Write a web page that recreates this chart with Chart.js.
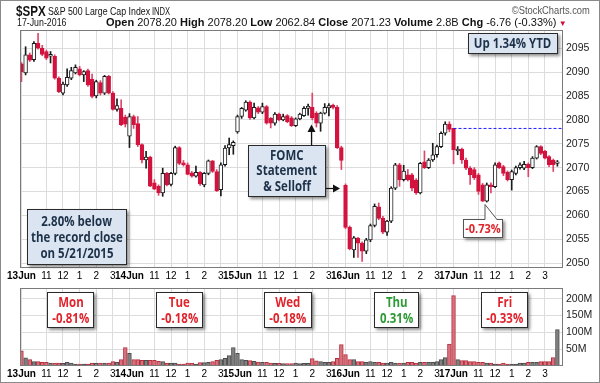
<!DOCTYPE html>
<html><head><meta charset="utf-8">
<script src="https://cdn.jsdelivr.net/npm/chart.js@4.4.1/dist/chart.umd.min.js"></script>
<style>
html,body{margin:0;padding:0;background:#fff;}
#wrap{position:relative;width:600px;height:383px;overflow:hidden;font-family:'Liberation Sans',Arial,sans-serif;color:#111;}
canvas{position:absolute;left:0;}
#price{top:0;}
#vol{top:279px;}
.t{position:absolute;white-space:nowrap;line-height:1;transform-origin:0 0;}
.box{position:absolute;box-sizing:border-box;border:1px solid #2a2a2a;box-shadow:2px 2px 3px rgba(0,0,0,.45);font-family:'Open Sans','Liberation Sans',sans-serif;font-weight:700;text-align:center;display:flex;flex-direction:column;justify-content:center;align-items:center;}
.box span{display:block;white-space:nowrap;transform:scaleX(.85);}
.blue{background:#dbe5f1;color:#1d3149;font-size:13.5px;line-height:15.5px;}
.white{background:#fff;font-size:13.5px;line-height:16.5px;}
.red{color:#e0242c;}
.green{color:#2e9a35;}
#frame{position:absolute;left:0;top:0;width:600px;height:383px;box-sizing:border-box;border:1px solid #8a8a8a;pointer-events:none;}
svg{position:absolute;left:0;top:0;}
</style></head>
<body>
<div id="wrap">
<canvas id="price" width="600" height="283"></canvas>
<canvas id="vol" width="600" height="104"></canvas>

<div class="t" style="left:16px;top:4px;font-size:14.5px;font-weight:700;transform:scaleX(.8)">$SPX</div>
<div class="t" style="left:48px;top:6px;font-size:11px;transform:scaleX(.8)">S&amp;P 500 Large Cap Index</div>
<div class="t" style="left:152px;top:7px;font-size:10px;transform:scaleX(.76)">INDX</div>
<div class="t" style="right:10px;top:5px;font-size:11px;color:#555;transform-origin:100% 0;transform:scaleX(.85)">&copy;StockCharts.com</div>
<div class="t" style="left:17px;top:17px;font-size:11px;transform:scaleX(.8)">17-Jun-2016</div>
<div class="t" style="left:106px;top:17px;font-size:11px;"><b>Open</b> 2078.20 <b>High</b> 2078.20 <b>Low</b> 2062.84 <b>Close</b> 2071.23 <b>Volume</b> 2.8B <b>Chg</b> -6.76 (-0.33%)<span style="color:#d0103a;font-size:8px;"> &#9660;</span></div>

<div class="box blue" style="left:468px;top:33px;width:90px;height:21px;"><span>Up 1.34% YTD</span></div>
<div class="box blue" style="left:248px;top:145px;width:78px;height:52px;"><span>FOMC</span><span>Statement</span><span>&amp; Selloff</span></div>
<div class="box blue" style="left:27px;top:209px;width:100px;height:56px;line-height:16px;"><span>2.80% below</span><span>the record close</span><span>on 5/21/2015</span></div>
<div class="box white red" style="left:463px;top:219px;width:40px;height:19px;font-size:13px;border-color:#555;"><span>-0.73%</span></div>

<div class="box white red" style="left:47px;top:292px;width:47px;height:36px;"><span>Mon</span><span>-0.81%</span></div>
<div class="box white red" style="left:156px;top:292px;width:47px;height:36px;"><span>Tue</span><span>-0.18%</span></div>
<div class="box white red" style="left:264px;top:292px;width:48px;height:36px;"><span>Wed</span><span>-0.18%</span></div>
<div class="box white green" style="left:374px;top:292px;width:45px;height:36px;"><span>Thu</span><span>0.31%</span></div>
<div class="box white red" style="left:481px;top:292px;width:47px;height:36px;"><span>Fri</span><span>-0.33%</span></div>

<svg width="600" height="383">
  <line x1="311.5" y1="145" x2="311.5" y2="131" stroke="#111" stroke-width="1.2"/>
  <polygon points="307.5,132 315.5,132 311.5,124.5" fill="#111"/>
  <line x1="326" y1="188.5" x2="334" y2="188.5" stroke="#111" stroke-width="1.2"/>
  <polygon points="333,184.5 333,192.5 340,188.5" fill="#111"/>
  <polygon points="485,204.5 485,220 497,220" fill="#fff"/>
  <polyline points="485,219.5 485,204.5 497,219.5" fill="none" stroke="#555" stroke-width="1"/>
</svg>
<div id="frame"></div>
</div>

<script>
// ---------- data (15-minute bars, 13-17 Jun 2016) ----------
const days = ['13Jun','14Jun','15Jun','16Jun','17Jun'];
const hourLabels = ['11','12','1','2','3'];
const hourBars = [6,10,14,18,22];
const barsPerDay = 26;
const priceTicks = [2050,2055,2060,2065,2070,2075,2080,2085,2090,2095];
const volTicks = [50,100,150,200];
const fridayHigh = 2078.2;
const fridayFirstBar = 104;

const opens = [
2091.7,2089.8,2093.6,2092.6,2096.0,2095.0,2094.3,2093.3,2093.3,2088.7,2085.6,2087.3,2088.7,2089.8,2090.7,2089.4,2090.3,2088.5,2085.0,2087.8,2085.6,2089.1,2085.6,2082.2,2082.4,2080.6,
2076.6,2080.7,2079.2,2074.8,2071.6,2072.2,2066.8,2066.1,2064.7,2068.8,2066.5,2068.8,2074.2,2071.0,2070.6,2068.9,2068.2,2069.0,2066.4,2068.8,2071.4,2069.2,2065.4,2070.6,2074.1,2074.6,
2077.5,2080.7,2082.0,2083.7,2080.4,2082.5,2081.6,2082.8,2080.3,2079.3,2081.2,2080.0,2080.9,2080.4,2078.8,2080.2,2080.9,2082.4,2082.6,2081.4,2079.3,2081.4,2082.5,2083.1,2082.6,2074.2,
2066.3,2057.5,2052.8,2055.2,2054.2,2052.5,2054.9,2057.9,2061.8,2059.4,2056.5,2058.8,2065.7,2070.6,2067.5,2068.5,2068.5,2067.4,2064.7,2071.2,2070.0,2071.6,2072.7,2074.4,2077.2,2079.1,
2078.2,2073.5,2073.9,2071.6,2069.9,2069.6,2068.5,2066.4,2063.0,2066.4,2066.0,2071.0,2070.2,2069.0,2067.5,2068.8,2070.0,2069.9,2070.7,2070.0,2072.0,2074.4,2073.4,2072.3,2071.6,2070.9];
const highs = [
2092.0,2095.3,2094.0,2096.4,2098.1,2095.6,2094.6,2094.3,2093.6,2089.0,2087.9,2090.7,2091.0,2091.5,2091.2,2090.3,2090.6,2089.6,2088.3,2088.2,2089.3,2089.3,2085.9,2084.4,2084.2,2081.0,
2081.3,2081.0,2080.7,2075.0,2073.4,2072.4,2067.5,2066.4,2069.9,2069.0,2069.0,2074.5,2074.4,2071.5,2071.0,2069.2,2070.3,2069.2,2069.0,2071.6,2071.5,2069.6,2071.0,2074.6,2076.2,2075.6,
2081.0,2082.6,2084.0,2084.0,2083.5,2082.8,2083.5,2083.0,2080.5,2081.5,2081.4,2081.2,2081.1,2080.7,2080.4,2081.4,2082.8,2083.3,2085.6,2081.7,2081.6,2083.4,2083.4,2083.3,2083.0,2074.5,
2066.6,2057.8,2055.6,2055.4,2054.5,2055.2,2058.2,2062.4,2062.6,2059.8,2059.0,2066.0,2070.9,2070.9,2070.5,2069.6,2068.8,2067.7,2071.1,2073.5,2071.9,2075.1,2074.7,2077.5,2079.6,2079.6,
2078.2,2074.4,2074.1,2072.0,2070.2,2070.0,2068.8,2066.7,2066.8,2066.8,2071.0,2071.2,2070.5,2069.3,2069.5,2070.3,2071.0,2071.3,2071.0,2072.3,2074.6,2074.6,2073.6,2072.5,2071.8,2071.5];
const lows = [
2088.0,2089.4,2092.2,2092.2,2094.8,2093.4,2092.6,2091.9,2088.5,2085.7,2085.2,2087.0,2088.4,2089.6,2089.2,2088.0,2087.0,2084.6,2084.6,2085.2,2085.3,2085.4,2082.0,2081.8,2078.8,2078.5,
2074.2,2078.2,2074.4,2071.0,2069.9,2066.0,2065.4,2064.2,2064.0,2066.2,2066.2,2068.5,2070.6,2070.3,2068.5,2068.0,2068.0,2066.3,2066.0,2068.5,2069.0,2065.0,2064.1,2070.3,2072.7,2072.8,
2077.2,2080.3,2081.8,2080.1,2080.2,2081.3,2081.3,2079.1,2078.3,2078.9,2079.8,2079.8,2079.4,2078.6,2078.6,2080.0,2080.7,2081.0,2080.0,2078.5,2077.6,2081.2,2080.8,2082.3,2074.0,2069.6,
2057.2,2052.8,2051.2,2051.2,2050.4,2052.0,2054.5,2057.6,2059.1,2056.2,2055.8,2058.5,2065.4,2066.1,2067.2,2067.2,2065.2,2064.4,2064.5,2069.8,2069.8,2071.3,2072.2,2074.2,2076.8,2077.5,
2070.8,2072.7,2070.9,2069.6,2066.5,2067.5,2064.4,2062.9,2062.8,2064.7,2065.8,2069.8,2068.3,2067.2,2065.3,2068.5,2069.7,2069.6,2068.1,2069.8,2071.8,2072.7,2071.8,2070.2,2069.2,2070.3];
const closes = [
2090.1,2093.6,2092.5,2096.0,2095.0,2093.7,2092.9,2093.7,2088.7,2085.9,2087.5,2088.9,2090.3,2091.0,2089.4,2090.1,2087.3,2084.9,2088.0,2085.6,2089.1,2085.6,2082.2,2083.0,2079.0,2079.1,
2080.7,2079.0,2074.8,2071.6,2072.2,2066.1,2065.5,2064.7,2068.8,2066.4,2068.8,2074.2,2070.9,2070.6,2068.6,2068.2,2069.0,2066.6,2068.8,2071.4,2069.2,2065.2,2070.6,2074.1,2074.8,2075.3,
2080.7,2082.4,2083.7,2080.4,2082.6,2081.6,2082.8,2079.3,2079.3,2081.2,2080.0,2080.7,2079.6,2078.8,2080.2,2081.2,2082.4,2082.9,2080.4,2079.3,2081.4,2082.6,2083.0,2082.6,2074.2,2071.5,
2057.5,2053.0,2055.3,2054.2,2052.5,2054.9,2057.9,2061.9,2059.4,2056.5,2058.8,2065.7,2070.6,2067.5,2069.3,2067.5,2065.7,2064.7,2070.9,2070.0,2071.6,2072.7,2074.4,2077.2,2079.1,2078.0,
2073.7,2073.9,2071.6,2069.9,2068.5,2067.9,2065.0,2063.0,2066.4,2066.0,2070.6,2070.0,2068.8,2067.5,2069.2,2070.0,2070.6,2070.7,2070.0,2072.0,2074.4,2073.0,2072.0,2070.6,2070.6,2071.2];
const volumes = [ // millions of shares
45,24,19,13,13,11,11,9,9,9,8,11,9,6,6,6,6,9,9,9,9,9,13,11,19,55,
38,19,19,17,17,17,17,14,13,9,9,9,6,6,9,9,6,10,10,11,13,17,19,23,31,55,
38,19,17,16,14,12,11,11,9,8,8,7,7,7,9,7,8,8,22,15,13,11,11,13,23,64,
34,19,19,13,13,11,13,11,11,9,9,11,9,9,9,11,11,9,11,11,11,11,13,19,25,65,
209,19,16,16,13,13,11,11,9,9,6,6,9,6,6,6,9,9,11,11,11,13,13,13,25,108];

// ---------- chart ----------
const F = "'Liberation Sans', Arial, sans-serif";
Chart.defaults.font.family = F;
const RED = '#d3123e';
const idx = closes.map((_, i) => i);
const isUp = i => closes[i] >= opens[i];
const xMin = -0.35, xMax = closes.length + 0.35;

const xTicks = [];
days.forEach((d, k) => {
  xTicks.push({ v: k * barsPerDay, label: d });
  hourBars.forEach((h, j) => xTicks.push({ v: k * barsPerDay + h, label: hourLabels[j] }));
});

const framePlugin = {
  id: 'frame',
  afterDraw(chart) {
    const { ctx, chartArea: a } = chart;
    ctx.save();
    ctx.strokeStyle = '#7a7a7a';
    ctx.lineWidth = 1;
    ctx.strokeRect(Math.round(a.left) + 0.5, Math.round(a.top) + 0.5, Math.round(a.right - a.left) - 1, Math.round(a.bottom - a.top) - 1);
    ctx.restore();
  }
};

function xScale(h) {
  return {
    type: 'linear', min: xMin, max: xMax, offset: false,
    afterBuildTicks: s => { s.ticks = xTicks.map(t => ({ value: t.v })); },
    afterFit: s => { s.height = h; },
    ticks: {
      autoSkip: false, maxRotation: 0, minRotation: 0, padding: 2, color: '#000',
      callback: v => { const t = xTicks.find(t => t.v === v); return t ? t.label : ''; },
      font: c => ({ family: F, size: 10, weight: (c.tick && c.tick.value % barsPerDay === 0) ? 'bold' : 'normal' })
    },
    grid: { color: '#dcdcdc', drawTicks: false, offset: false },
    border: { display: false }
  };
}

new Chart(document.getElementById('price'), {
  type: 'bar',
  data: {
    datasets: [
      {
        data: idx.map(i => ({ x: i, y: [opens[i], closes[i]] })),
        backgroundColor: c => isUp(c.dataIndex) ? '#ffffff' : RED,
        borderColor: c => isUp(c.dataIndex) ? '#1a1a1a' : RED,
        borderWidth: 1, borderSkipped: false, barThickness: 3.8, minBarLength: 1,
        grouped: false, order: 1
      },
      {
        data: idx.map(i => ({ x: i, y: [lows[i], highs[i]] })),
        backgroundColor: c => isUp(c.dataIndex) ? '#1a1a1a' : '#e0456a',
        borderWidth: 0, barThickness: 1, grouped: false, order: 2
      },
      {
        type: 'line',
        data: [{ x: fridayFirstBar, y: fridayHigh }, { x: xMax, y: fridayHigh }],
        borderColor: '#1a1aff', borderWidth: 1, borderDash: [3, 2], pointRadius: 0, order: 0
      }
    ]
  },
  options: {
    responsive: false, animation: false,
    layout: { padding: { left: 20, top: 30, right: 0, bottom: 0 } },
    plugins: { legend: { display: false }, tooltip: { enabled: false } },
    scales: {
      x: xScale(15),
      y: {
        type: 'linear', position: 'right', min: 2049, max: 2098.8, beginAtZero: false,
        afterBuildTicks: s => { s.ticks = priceTicks.map(v => ({ value: v })); },
        afterFit: s => { s.width = 37; },
        ticks: { padding: 3, color: '#222', font: { size: 10.5 }, callback: v => String(v) },
        grid: { color: '#dcdcdc', drawTicks: false },
        border: { display: false }
      }
    }
  },
  plugins: [framePlugin]
});

new Chart(document.getElementById('vol'), {
  type: 'bar',
  data: {
    datasets: [{
      data: idx.map(i => ({ x: i, y: volumes[i] })),
      backgroundColor: c => isUp(c.dataIndex) ? '#808080' : '#d9717d',
      borderColor: c => isUp(c.dataIndex) ? '#4d4d4d' : '#b3303f',
      borderWidth: 1, barThickness: 3.8
    }]
  },
  options: {
    responsive: false, animation: false,
    layout: { padding: { left: 20, top: 2, right: 0, bottom: 0 } },
    plugins: { legend: { display: false }, tooltip: { enabled: false } },
    scales: {
      x: xScale(17),
      y: {
        type: 'linear', position: 'right', min: 0, max: 231,
        afterBuildTicks: s => { s.ticks = volTicks.map(v => ({ value: v })); },
        afterFit: s => { s.width = 37; },
        ticks: { padding: 3, color: '#222', font: { size: 10.5 }, callback: v => v + 'M' },
        grid: { color: '#dcdcdc', drawTicks: false },
        border: { display: false }
      }
    }
  },
  plugins: [framePlugin]
});
</script>
</body></html>
